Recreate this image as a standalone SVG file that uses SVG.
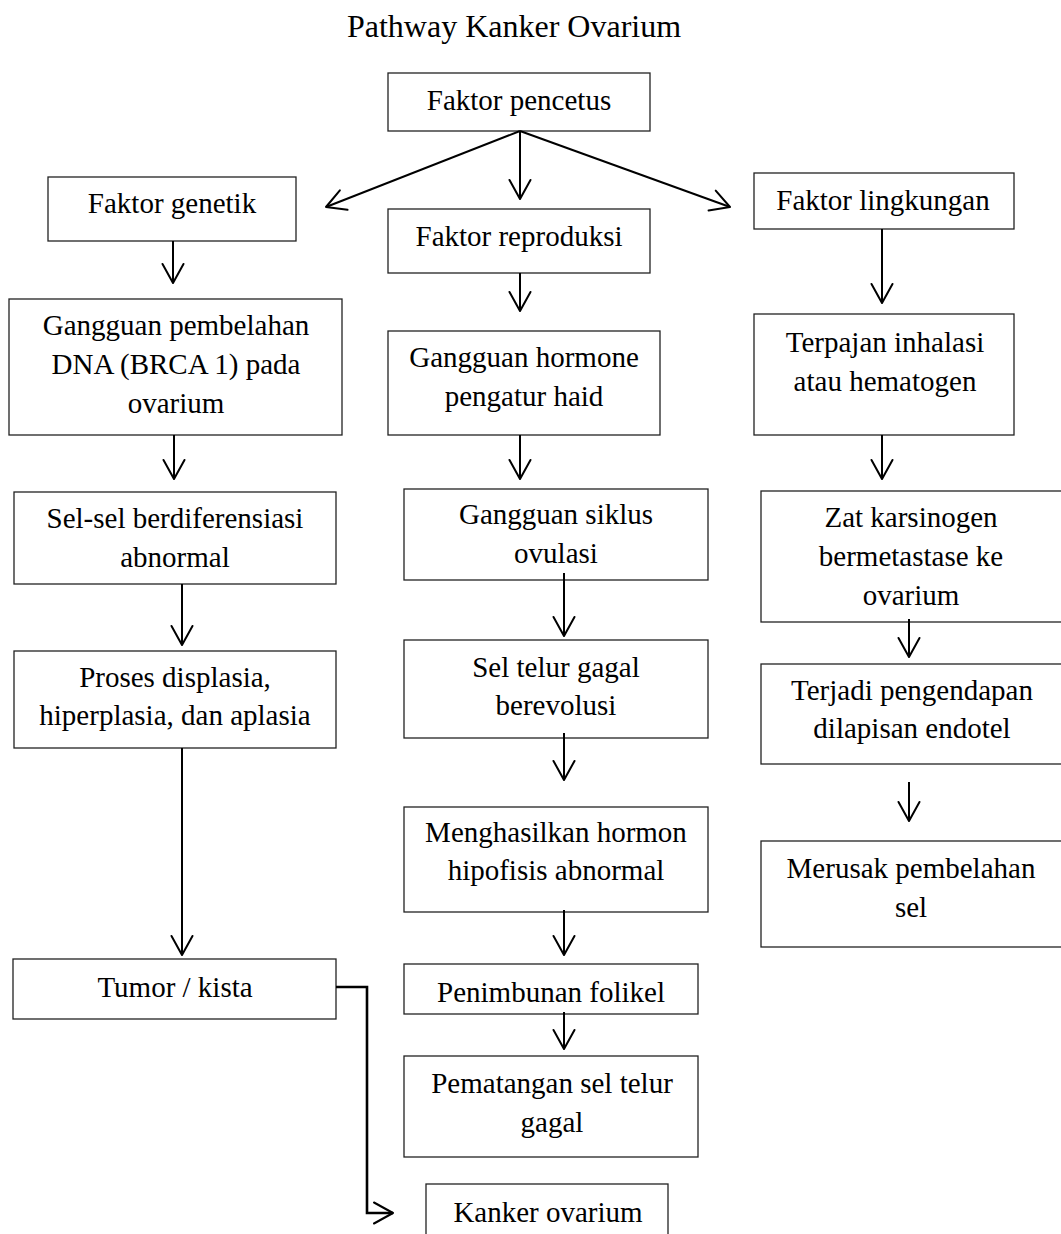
<svg xmlns="http://www.w3.org/2000/svg" width="1061" height="1234" viewBox="0 0 1061 1234">
<style>
.box{fill:#fff;stroke:#222;stroke-width:1.3}
.t{font-family:"Liberation Serif","Times New Roman",serif;font-size:29px;fill:#000;text-anchor:middle}
.title{font-family:"Liberation Serif","Times New Roman",serif;font-size:32px;fill:#000;text-anchor:middle}
.c{fill:none;stroke:#000;stroke-width:2;marker-end:url(#ah)}
.e{fill:none;stroke:#000;stroke-width:2.6;marker-end:url(#ah)}
</style>
<defs>
<marker id="ah" markerUnits="userSpaceOnUse" viewBox="-22 -13 25 26" markerWidth="25" markerHeight="26" refX="0" refY="0" orient="auto">
<path d="M-19,-10.5 L0,0 L-19,10.5" fill="none" stroke="#000" stroke-width="2" stroke-linejoin="round" stroke-linecap="round"/>
</marker>
</defs>
<rect width="1061" height="1234" fill="#fff"/>
<text class="title" x="514" y="37">Pathway Kanker Ovarium</text>

<g id="n-pencetus"><rect class="box" x="388" y="73" width="262" height="58"/><text class="t" x="519" y="110">Faktor pencetus</text></g>
<g id="n-genetik"><rect class="box" x="48" y="177" width="248" height="64"/><text class="t" x="172" y="213">Faktor genetik</text></g>
<g id="n-reproduksi"><rect class="box" x="388" y="209" width="262" height="64"/><text class="t" x="519" y="246">Faktor reproduksi</text></g>
<g id="n-lingkungan"><rect class="box" x="754" y="173" width="260" height="56"/><text class="t" x="883" y="210">Faktor lingkungan</text></g>

<g id="n-pembelahan"><rect class="box" x="9" y="299" width="333" height="136"/><text class="t" x="176" y="335">Gangguan pembelahan</text><text class="t" x="176" y="374">DNA (BRCA 1) pada</text><text class="t" x="176" y="413">ovarium</text></g>
<g id="n-selsel"><rect class="box" x="14" y="492" width="322" height="92"/><text class="t" x="175" y="528">Sel-sel berdiferensiasi</text><text class="t" x="175" y="567">abnormal</text></g>
<g id="n-proses"><rect class="box" x="14" y="651" width="322" height="97"/><text class="t" x="175" y="687">Proses displasia,</text><text class="t" x="175" y="725">hiperplasia, dan aplasia</text></g>
<g id="n-tumor"><rect class="box" x="13" y="959" width="323" height="60"/><text class="t" x="175" y="997">Tumor / kista</text></g>

<g id="n-hormone"><rect class="box" x="388" y="331" width="272" height="104"/><text class="t" x="524" y="367">Gangguan hormone</text><text class="t" x="524" y="406">pengatur haid</text></g>
<g id="n-siklus"><rect class="box" x="404" y="489" width="304" height="91"/><text class="t" x="556" y="524">Gangguan siklus</text><text class="t" x="556" y="563">ovulasi</text></g>
<g id="n-seltelur"><rect class="box" x="404" y="640" width="304" height="98"/><text class="t" x="556" y="677">Sel telur gagal</text><text class="t" x="556" y="715">berevolusi</text></g>
<g id="n-menghasilkan"><rect class="box" x="404" y="807" width="304" height="105"/><text class="t" x="556" y="842">Menghasilkan hormon</text><text class="t" x="556" y="880">hipofisis abnormal</text></g>
<g id="n-penimbunan"><rect class="box" x="404" y="964" width="294" height="50"/><text class="t" x="551" y="1002">Penimbunan folikel</text></g>
<g id="n-pematangan"><rect class="box" x="404" y="1056" width="294" height="101"/><text class="t" x="552" y="1093">Pematangan sel telur</text><text class="t" x="552" y="1132">gagal</text></g>
<g id="n-kanker"><rect class="box" x="426" y="1184" width="242" height="62"/><text class="t" x="548" y="1222">Kanker ovarium</text></g>

<g id="n-terpajan"><rect class="box" x="754" y="314" width="260" height="121"/><text class="t" x="885" y="352">Terpajan inhalasi</text><text class="t" x="885" y="391">atau hematogen</text></g>
<g id="n-zat"><rect class="box" x="761" y="491" width="310" height="131"/><text class="t" x="911" y="527">Zat karsinogen</text><text class="t" x="911" y="566">bermetastase ke</text><text class="t" x="911" y="605">ovarium</text></g>
<g id="n-terjadi"><rect class="box" x="761" y="664" width="310" height="100"/><text class="t" x="912" y="700">Terjadi pengendapan</text><text class="t" x="912" y="738">dilapisan endotel</text></g>
<g id="n-merusak"><rect class="box" x="761" y="841" width="310" height="106"/><text class="t" x="911" y="878">Merusak pembelahan</text><text class="t" x="911" y="917">sel</text></g>

<g id="connectors">
<path class="c" d="M520,131 L326,207"/>
<path class="c" d="M520,131 L520,199"/>
<path class="c" d="M520,131 L730,207"/>
<path class="c" d="M173,241 L173,283"/>
<path class="c" d="M174,435 L174,479"/>
<path class="c" d="M182,584 L182,645"/>
<path class="c" d="M182,748 L182,955"/>
<path class="c" d="M520,273 L520,311"/>
<path class="c" d="M520,435 L520,479"/>
<path class="c" d="M564,573 L564,636"/>
<path class="c" d="M564,733 L564,780"/>
<path class="c" d="M564,910 L564,955"/>
<path class="c" d="M564,1012 L564,1049"/>
<path class="c" d="M882,229 L882,303"/>
<path class="c" d="M882,435 L882,479"/>
<path class="c" d="M909,619 L909,657"/>
<path class="c" d="M909,782 L909,821"/>
<path class="e" d="M336,987 L367,987 L367,1213 L393,1213"/>
</g>
</svg>
